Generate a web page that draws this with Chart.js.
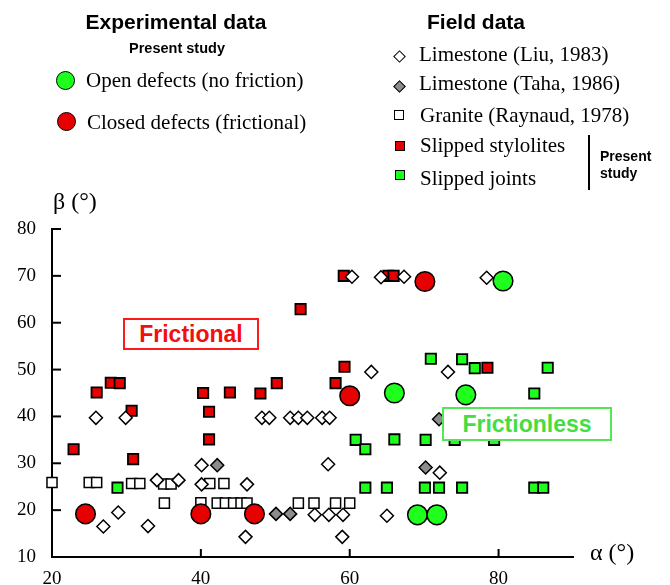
<!DOCTYPE html>
<html>
<head>
<meta charset="utf-8">
<script src="https://cdn.jsdelivr.net/npm/chart.js@4/dist/chart.umd.min.js"></script>
<style>
  html, body { margin: 0; padding: 0; background: #fff; }
  #wrap { position: relative; width: 670px; height: 585px; overflow: hidden; }
  canvas { position: absolute; left: 0; top: 0; }
  .t { position: absolute; white-space: nowrap; color: #000; transform: translateY(-50%); line-height: 1; }
  .serif { font-family: "Liberation Serif", "Times New Roman", serif; }
  .sans { font-family: "Liberation Sans", Arial, sans-serif; font-weight: bold; }
  .c { transform: translate(-50%, -50%); }
  .mk { position: absolute; box-sizing: border-box; border: 1.5px solid #000; }
  .box { position: absolute; box-sizing: border-box; background: #fff; display: flex; align-items: center; justify-content: center; font-family: "Liberation Sans", Arial, sans-serif; font-weight: bold; }
</style>
</head>
<body>
<div id="wrap">
  <canvas id="c" width="670" height="585"></canvas>

  <div class="t sans c" style="left:176px;top:21px;font-size:21px;">Experimental data</div>
  <div class="t sans c" style="left:177px;top:48px;font-size:14.5px;">Present study</div>
  <div class="mk" style="left:56px;top:71px;width:19px;height:19px;border-radius:50%;background:#1eff1e;"></div>
  <div class="t serif" style="left:86px;top:80px;font-size:21px;">Open defects (no friction)</div>
  <div class="mk" style="left:57px;top:112px;width:19px;height:19px;border-radius:50%;background:#e60000;"></div>
  <div class="t serif" style="left:87px;top:122px;font-size:21px;">Closed defects (frictional)</div>

  <div class="t sans c" style="left:476px;top:21px;font-size:21px;">Field data</div>
  <div class="mk" style="left:395px;top:52px;width:9px;height:9px;background:#fff;transform:rotate(45deg);"></div>
  <div class="t serif" style="left:419px;top:54px;font-size:21px;">Limestone (Liu, 1983)</div>
  <div class="mk" style="left:395px;top:82px;width:9px;height:9px;background:#8c8c8c;transform:rotate(45deg);"></div>
  <div class="t serif" style="left:419px;top:83px;font-size:21px;">Limestone (Taha, 1986)</div>
  <div class="mk" style="left:394px;top:110px;width:10px;height:10px;background:#fff;"></div>
  <div class="t serif" style="left:420px;top:115px;font-size:21px;">Granite (Raynaud, 1978)</div>
  <div class="mk" style="left:395px;top:141px;width:10px;height:10px;background:#e60000;"></div>
  <div class="t serif" style="left:420px;top:145px;font-size:21px;">Slipped stylolites</div>
  <div class="mk" style="left:395px;top:170px;width:10px;height:10px;background:#1eff1e;"></div>
  <div class="t serif" style="left:420px;top:178px;font-size:21px;">Slipped joints</div>
  <div style="position:absolute;left:588px;top:135px;width:1.5px;height:55px;background:#000;"></div>
  <div class="t sans" style="left:600px;top:156px;font-size:14px;">Present</div>
  <div class="t sans" style="left:600px;top:173px;font-size:14px;">study</div>

  <div class="t serif" style="left:53px;top:201px;font-size:24px;">β (°)</div>
  <div class="t serif" style="left:590px;top:552px;font-size:24px;">α (°)</div>

  <div class="box" style="left:123px;top:318px;width:136px;height:32px;border:2px solid #ff1a1a;color:#f01010;font-size:23px;">Frictional</div>
  <div class="box" style="left:442px;top:407px;width:170px;height:34px;border:2.5px solid #55e655;color:#44dd44;font-size:23px;">Frictionless</div>
</div>

<script>
// ---- Data (alpha °, beta °) ----
const xTicks = [20, 40, 60, 80];
const yTicks = [10, 20, 30, 40, 50, 60, 70, 80];

const openDefects = [
  {x: 66.0, y: 45.0}, {x: 75.6, y: 44.6}, {x: 80.6, y: 68.9}, {x: 69.1, y: 19.0}, {x: 71.7, y: 19.0}
];
const closedDefects = [
  {x: 24.5, y: 19.2}, {x: 40.0, y: 19.2}, {x: 47.2, y: 19.2}, {x: 60.0, y: 44.4}, {x: 70.1, y: 68.8}
];
const limestoneLiu = [
  {x: 25.9, y: 39.7}, {x: 29.9, y: 39.7}, {x: 26.9, y: 16.5}, {x: 28.9, y: 19.5}, {x: 32.9, y: 16.6},
  {x: 34.1, y: 26.4}, {x: 37.0, y: 26.4}, {x: 40.1, y: 29.6}, {x: 40.1, y: 25.5}, {x: 46.2, y: 25.5},
  {x: 46.0, y: 14.3}, {x: 48.2, y: 39.7}, {x: 49.2, y: 39.7}, {x: 52.0, y: 39.7}, {x: 53.1, y: 39.7},
  {x: 54.3, y: 39.7}, {x: 56.3, y: 39.7}, {x: 57.3, y: 39.7}, {x: 57.1, y: 29.8}, {x: 55.3, y: 19.0},
  {x: 57.2, y: 19.0}, {x: 59.1, y: 19.0}, {x: 59.0, y: 14.3}, {x: 60.3, y: 69.8}, {x: 62.9, y: 49.5},
  {x: 64.2, y: 69.7}, {x: 67.3, y: 69.8}, {x: 65.0, y: 18.8}, {x: 73.2, y: 49.5}, {x: 72.1, y: 28.0},
  {x: 78.4, y: 69.6}
];
const limestoneTaha = [
  {x: 42.2, y: 29.6}, {x: 50.1, y: 19.2}, {x: 52.0, y: 19.2}, {x: 70.2, y: 29.1}, {x: 72.0, y: 39.4}
];
const graniteRaynaud = [
  {x: 20.0, y: 25.9}, {x: 25.0, y: 25.9}, {x: 26.0, y: 25.9}, {x: 30.7, y: 25.7}, {x: 31.8, y: 25.7},
  {x: 35.0, y: 25.6}, {x: 36.0, y: 25.6}, {x: 35.1, y: 21.5}, {x: 40.0, y: 21.6}, {x: 41.2, y: 25.7},
  {x: 43.1, y: 25.7}, {x: 42.2, y: 21.5}, {x: 43.3, y: 21.5}, {x: 44.4, y: 21.5}, {x: 45.4, y: 21.5},
  {x: 46.2, y: 21.5}, {x: 53.1, y: 21.5}, {x: 55.2, y: 21.5}, {x: 58.1, y: 21.5}, {x: 60.0, y: 21.5}
];
const slippedStylolites = [
  {x: 22.9, y: 33.0}, {x: 26.0, y: 45.1}, {x: 27.9, y: 47.2}, {x: 29.1, y: 47.1}, {x: 30.7, y: 41.2},
  {x: 30.9, y: 30.9}, {x: 40.3, y: 45.0}, {x: 41.1, y: 41.0}, {x: 41.1, y: 35.1}, {x: 43.9, y: 45.1},
  {x: 48.0, y: 44.9}, {x: 50.2, y: 47.1}, {x: 53.4, y: 62.9}, {x: 58.1, y: 47.1}, {x: 59.3, y: 50.6},
  {x: 59.2, y: 70.0}, {x: 65.2, y: 70.0}, {x: 65.9, y: 70.0}, {x: 78.5, y: 50.4}
];
const slippedJoints = [
  {x: 28.8, y: 24.8}, {x: 60.8, y: 35.0}, {x: 62.1, y: 33.0}, {x: 62.1, y: 24.8}, {x: 65.0, y: 24.8},
  {x: 66.0, y: 35.1}, {x: 70.2, y: 35.0}, {x: 70.1, y: 24.8}, {x: 70.9, y: 52.3}, {x: 72.0, y: 24.8},
  {x: 74.1, y: 35.0}, {x: 75.1, y: 52.2}, {x: 75.1, y: 24.8}, {x: 76.8, y: 50.3}, {x: 79.4, y: 35.0},
  {x: 84.8, y: 44.9}, {x: 84.8, y: 24.8}, {x: 86.0, y: 24.8}, {x: 86.6, y: 50.4}
];

const RED = '#e60000', GREEN = '#1eff1e', GREY = '#8c8c8c';

function ds(label, data, style, radius, fill, bw, order) {
  return { label, data, pointStyle: style, pointRadius: radius, pointHoverRadius: radius,
    backgroundColor: fill, borderColor: '#000', pointBorderWidth: bw, borderWidth: bw,
    showLine: false, clip: false, order };
}

const innerTicks = {
  id: 'innerTicks',
  afterDraw(chart) {
    const {ctx, chartArea, scales} = chart;
    ctx.save();
    ctx.strokeStyle = '#000';
    ctx.lineWidth = 2;
    scales.x.ticks.forEach(t => {
      if (t.value === scales.x.min) return;
      const px = scales.x.getPixelForValue(t.value);
      ctx.beginPath(); ctx.moveTo(px, chartArea.bottom); ctx.lineTo(px, chartArea.bottom - 8); ctx.stroke();
    });
    scales.y.ticks.forEach(t => {
      if (t.value === scales.y.min) return;
      const py = scales.y.getPixelForValue(t.value);
      ctx.beginPath(); ctx.moveTo(chartArea.left, py); ctx.lineTo(chartArea.left + 9, py); ctx.stroke();
    });
    ctx.restore();
  }
};

new Chart(document.getElementById('c'), {
  type: 'scatter',
  data: {
    datasets: [
      ds('Open defects (no friction)', openDefects, 'circle', 9.8, GREEN, 1.5, 1),
      ds('Closed defects (frictional)', closedDefects, 'circle', 9.8, RED, 1.5, 2),
      ds('Limestone (Liu, 1983)', limestoneLiu, 'rectRot', 6.5, '#fff', 1.5, 3),
      ds('Limestone (Taha, 1986)', limestoneTaha, 'rectRot', 6.5, GREY, 1.5, 4),
      ds('Granite (Raynaud, 1978)', graniteRaynaud, 'rect', 7.1, '#fff', 1.5, 5),
      ds('Slipped stylolites', slippedStylolites, 'rect', 7.3, RED, 1.8, 6),
      ds('Slipped joints', slippedJoints, 'rect', 7.3, GREEN, 1.8, 7)
    ]
  },
  options: {
    responsive: false,
    animation: false,
    layout: { padding: { left: 0, top: 229, right: 97, bottom: 0 } },
    plugins: { legend: { display: false }, tooltip: { enabled: false } },
    scales: {
      x: {
        type: 'linear', min: 20, max: 90,
        afterFit(s) { s.height = 28; },
        afterBuildTicks(s) { s.ticks = xTicks.map(v => ({ value: v })); },
        ticks: { includeBounds: false, stepSize: 20, color: '#000', padding: 11, maxRotation: 0,
                 font: { family: '"Liberation Serif", "Times New Roman", serif', size: 19 } },
        grid: { display: false, drawTicks: false },
        border: { display: true, color: '#000', width: 2 }
      },
      y: {
        type: 'linear', min: 10, max: 80,
        afterFit(s) { s.width = 52; },
        afterBuildTicks(s) { s.ticks = yTicks.map(v => ({ value: v })); },
        ticks: { stepSize: 10, color: '#000', padding: 16,
                 font: { family: '"Liberation Serif", "Times New Roman", serif', size: 19 } },
        grid: { display: false, drawTicks: false },
        border: { display: true, color: '#000', width: 2 }
      }
    }
  },
  plugins: [innerTicks]
});
</script>
</body>
</html>
